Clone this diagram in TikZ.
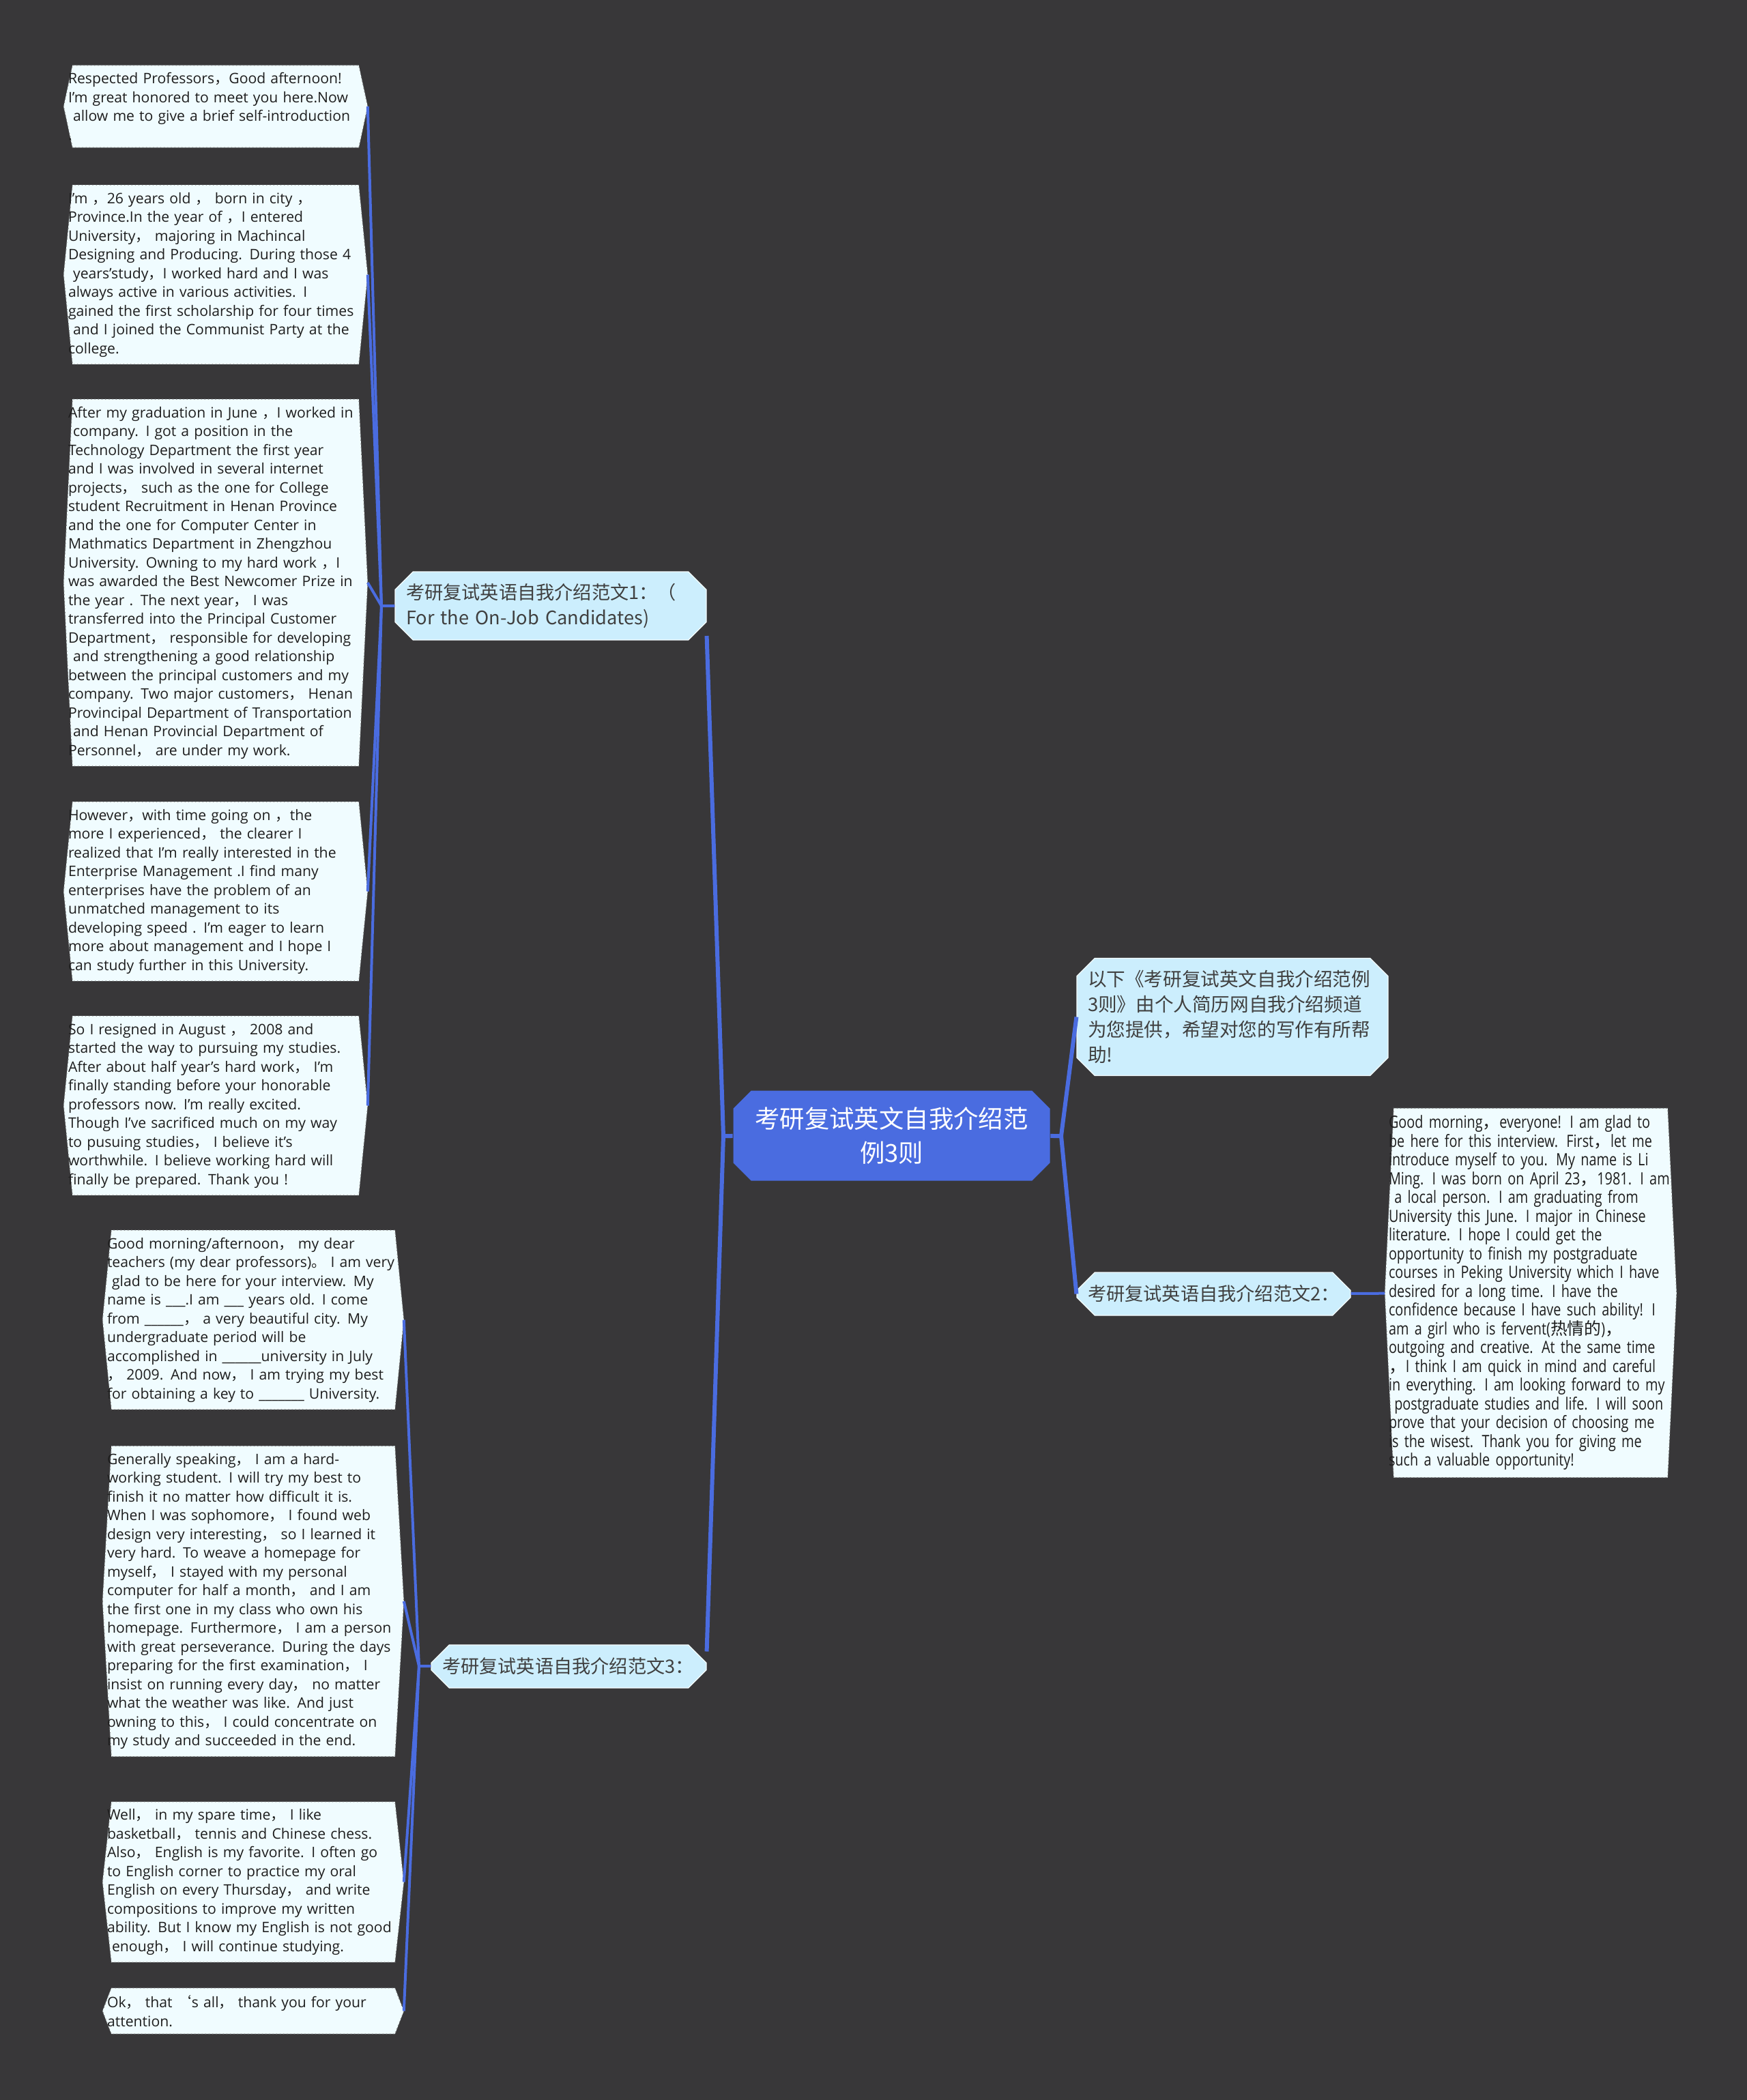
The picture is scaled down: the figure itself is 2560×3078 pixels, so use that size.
\documentclass[tikz,border=0pt]{standalone}
\usepackage{fontspec}
\setmainfont{Open Sans}
\newfontfamily\cjk{Noto Sans CJK SC}
\newfontfamily\narrowfont[FakeStretch=0.8]{Open Sans}
\usetikzlibrary{shapes.misc}

\definecolor{canvas}{RGB}{56,55,57}
\definecolor{rootblue}{RGB}{74,108,224}
\definecolor{branchfill}{RGB}{204,238,253}
\definecolor{leaffill}{RGB}{240,252,255}
\definecolor{linkblue}{RGB}{74,108,224}
\definecolor{inkdark}{RGB}{30,30,30}

% full-width comma as printed in the texts
\newcommand{\fwc}{{\cjk ，}}

\pgfdeclarelayer{background}
\pgfsetlayers{background,main}

\begin{document}
\begin{tikzpicture}[x=0.25pt, y=-0.25pt,
    root/.style={chamfered rectangle, chamfered rectangle xsep=3pt, fill=rootblue,
      text=white, align=center, font=\cjk\fontsize{9.1}{12.3}\selectfont,
      minimum width=116pt, minimum height=33pt, inner sep=0pt},
    branch/.style={chamfered rectangle, chamfered rectangle xsep=3pt, fill=branchfill,
      draw=white!80!branchfill, line width=0.3pt, text=inkdark!85, align=left,
      inner xsep=1pt, inner ysep=0pt, font=\cjk\fontsize{6.8}{9.25}\selectfont},
    leaf/.style={rectangle, inner xsep=1.5pt, inner ysep=2.5pt, text width=#1,
      align=left, text=inkdark, font=\fontsize{5.3}{6.875}\selectfont},
    leafshape/.style={fill=leaffill, draw=black!55, densely dotted, line width=0.3pt},
    trunk/.style={linkblue, line width=1.5pt},
    twig/.style={linkblue, line width=1pt}]

  \useasboundingbox (0,0) rectangle (2560,3078);

  % centre
  \node[root] (root) at (1306.5,1664.5) {考研复试英文自我介绍范\\例3则};

  % branches
  \node[branch, text width=106pt, minimum height=25pt]
    (b1) at (807,888) {考研复试英语自我介绍范文1：（\\For the On-Job Candidates)};
  \node[branch, text width=106pt, minimum height=43pt, font=\cjk\fontsize{6.9}{9.2}\selectfont]
    (intro) at (1806,1490.5) {以下《考研复试英文自我介绍范例\\3则》由个人简历网自我介绍频道\\为您提供，希望对您的写作有所帮\\助!};
  \node[branch, text width=92.25pt, minimum height=15.75pt]
    (b2) at (1778.5,1896.5) {考研复试英语自我介绍范文2：};
  \node[branch, text width=92.75pt, minimum height=15.75pt]
    (b3) at (833.5,2442.5) {考研复试英语自我介绍范文3：};

  % leaves of branch 1
  \node[leaf=108pt] (l1a) at (316,156) {Respected Professors\fwc Good afternoon!\\
    I'm great honored to meet you here.Now\\
    \ allow me to give a brief self-introduction\\
    .};
  \node[leaf=108pt] (l1b) at (316,402.5) {I'm \fwc 26 years old \fwc\ born in city \fwc\\
    Province.In the year of \fwc I entered\\
    University\fwc\ majoring in Machincal\\
    Designing and Producing. During those 4\\
    \ years'study\fwc I worked hard and I was\\
    always active in various activities. I\\
    gained the first scholarship for four times\\
    \ and I joined the Communist Party at the\\
    college.};
  \node[leaf=108pt] (l1c) at (316,854) {After my graduation in June \fwc I worked in\\
    \ company. I got a position in the\\
    Technology Department the first year\\
    and I was involved in several internet\\
    projects\fwc\ such as the one for College\\
    student Recruitment in Henan Province\\
    and the one for Computer Center in\\
    Mathmatics Department in Zhengzhou\\
    University. Owning to my hard work \fwc I\\
    was awarded the Best Newcomer Prize in\\
    the year . The next year\fwc\ I was\\
    transferred into the Principal Customer\\
    Department\fwc\ responsible for developing\\
    \ and strengthening a good relationship\\
    between the principal customers and my\\
    company. Two major customers\fwc\ Henan\\
    Provincipal Department of Transportation\\
    \ and Henan Provincial Department of\\
    Personnel\fwc\ are under my work.};
  \node[leaf=108pt] (l1d) at (316,1306.5) {However\fwc with time going on \fwc the\\
    more I experienced\fwc\ the clearer I\\
    realized that I'm really interested in the\\
    Enterprise Management .I find many\\
    enterprises have the problem of an\\
    unmatched management to its\\
    developing speed . I'm eager to learn\\
    more about management and I hope I\\
    can study further in this University.};
  \node[leaf=108pt] (l1e) at (316,1620.5) {So I resigned in August \fwc\ 2008 and\\
    started the way to pursuing my studies.\\
    After about half year's hard work\fwc\ I'm\\
    finally standing before your honorable\\
    professors now. I'm really excited.\\
    Though I've sacrificed much on my way\\
    to pusuing studies\fwc\ I believe it's\\
    worthwhile. I believe working hard will\\
    finally be prepared. Thank you !};

  % leaf of branch 2
  \node[leaf=104pt, inner xsep=1.25pt, font=\narrowfont\fontsize{6.2}{6.875}\selectfont] (l2a) at (2243,1895) {Good morning\fwc everyone! I am glad to\\
    be here for this interview. First\fwc let me\\
    introduce myself to you. My name is Li\\
    Ming. I was born on April 23\fwc 1981. I am\\
    \ a local person. I am graduating from\\
    University this June. I major in Chinese\\
    literature. I hope I could get the\\
    opportunity to finish my postgraduate\\
    courses in Peking University which I have\\
    desired for a long time. I have the\\
    confidence because I have such ability! I\\
    am a girl who is fervent({\cjk 热情的})\fwc\\
    outgoing and creative. At the same time\\
    \fwc I think I am quick in mind and careful\\
    in everything. I am looking forward to my\\
    \ postgraduate studies and life. I will soon\\
    prove that your decision of choosing me\\
    is the wisest. Thank you for giving me\\
    such a valuable opportunity!};

  % leaves of branch 3
  \node[leaf=107pt] (l3a) at (371,1934.5) {Good morning/afternoon\fwc\ my dear\\
    teachers (my dear professors){\cjk 。}\ I am very\\
    \ glad to be here for your interview. My\\
    name is \_\_\_.I am \_\_\_ years old. I come\\
    from \_\_\_\_\_\_\fwc\ a very beautiful city. My\\
    undergraduate period will be\\
    accomplished in \_\_\_\_\_\_university in July\\
    \fwc\ 2009. And now\fwc\ I am trying my best\\
    for obtaining a key to \_\_\_\_\_\_\_ University.};
  \node[leaf=107pt] (l3b) at (371,2347) {Generally speaking\fwc\ I am a hard-\\
    working student. I will try my best to\\
    finish it no matter how difficult it is.\\
    When I was sophomore\fwc\ I found web\\
    design very interesting\fwc\ so I learned it\\
    very hard. To weave a homepage for\\
    myself\fwc\ I stayed with my personal\\
    computer for half a month\fwc\ and I am\\
    the first one in my class who own his\\
    homepage. Furthermore\fwc\ I am a person\\
    with great perseverance. During the days\\
    preparing for the first examination\fwc\ I\\
    insist on running every day\fwc\ no matter\\
    what the weather was like. And just\\
    owning to this\fwc\ I could concentrate on\\
    my study and succeeded in the end.};
  \node[leaf=107pt] (l3c) at (371,2758.5) {Well\fwc\ in my spare time\fwc\ I like\\
    basketball\fwc\ tennis and Chinese chess.\\
    Also\fwc\ English is my favorite. I often go\\
    to English corner to practice my oral\\
    English on every Thursday\fwc\ and write\\
    compositions to improve my written\\
    ability. But I know my English is not good\\
    \ enough\fwc\ I will continue studying.};
  \node[leaf=107pt] (l3d) at (371,2947.5) {Ok\fwc\ that {\cjk ‘}s all\fwc\ thank you for your\\
    attention.};

  % leaf outlines and canvas
  \begin{pgfonlayer}{background}
    \fill[canvas] (0,0) rectangle (2560,3078);
    \foreach \n in {l1a,l1b,l1c,l1d,l1e,l2a,l3a,l3b,l3c,l3d}
      \filldraw[leafshape] (\n.west) -- ([xshift=3.25pt]\n.north west) -- ([xshift=-3.25pt]\n.north east)
        -- (\n.east) -- ([xshift=-3.25pt]\n.south east) -- ([xshift=3.25pt]\n.south west) -- cycle;
  \end{pgfonlayer}

  % junctions
  \coordinate (jL) at (1060,1665);
  \coordinate (jR) at (1555,1665);
  \coordinate (j1) at (559,888);
  \coordinate (j3) at (614,2442);

  \draw[trunk] (root) -- (jL);
  \draw[trunk] (jL) -- ([yshift=-11pt]b1.east);
  \draw[trunk] (jL) -- ([yshift=5.5pt]b3.east);
  \draw[trunk] (root) -- (jR);
  \draw[trunk] (jR) -- (intro.west);
  \draw[trunk] (jR) -- (b2.west);

  \draw[twig] (b1) -- (j1);
  \foreach \n in {l1a,l1b,l1c,l1d,l1e}
    \draw[twig] (j1) -- (\n.east);
  \draw[twig] (b3) -- (j3);
  \foreach \n in {l3a,l3b,l3c,l3d}
    \draw[twig] (j3) -- (\n.east);
  \draw[twig] (b2) -- (l2a);
\end{tikzpicture}
\end{document}
